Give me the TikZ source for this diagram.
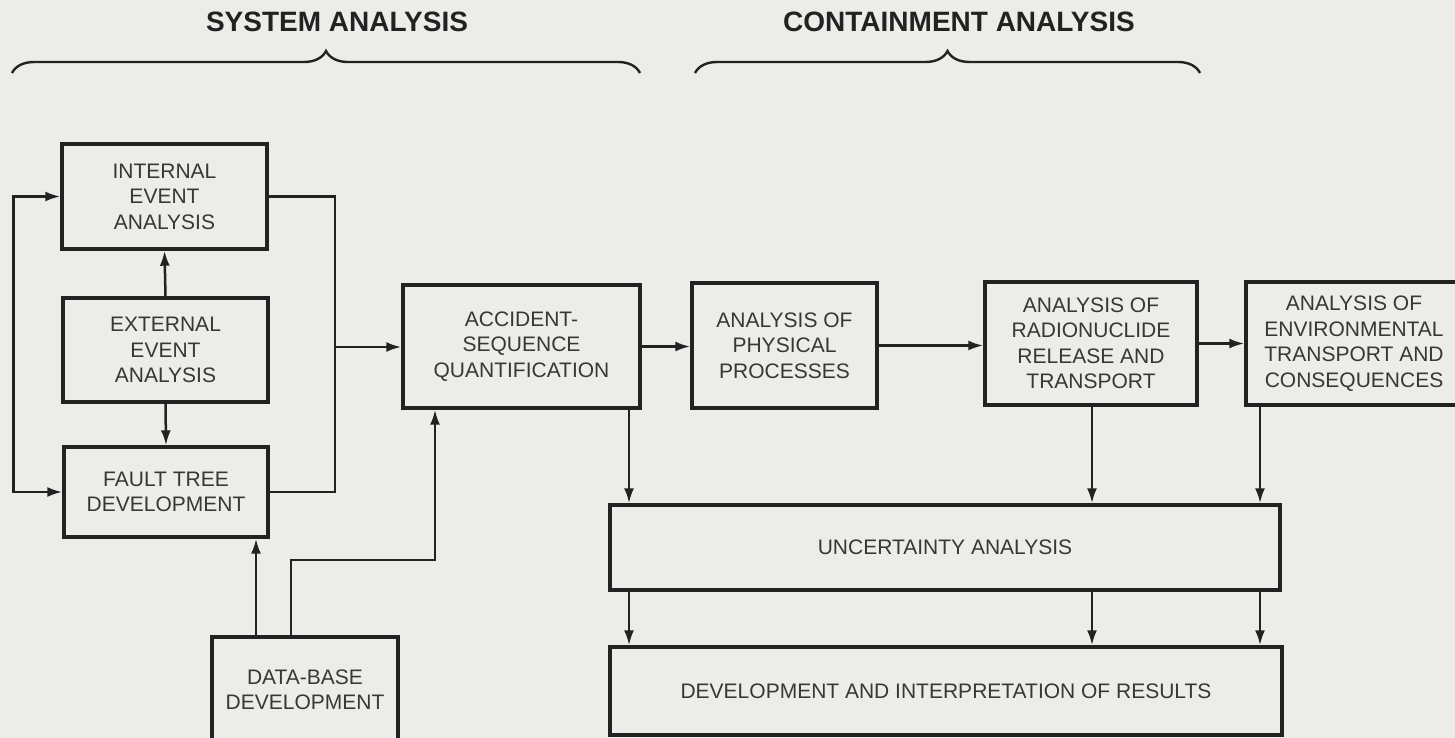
\documentclass[tikz,border=0pt]{standalone}
\usepackage{fontspec}
\setmainfont{Liberation Sans}
\usetikzlibrary{arrows.meta,decorations.pathreplacing}
\definecolor{bg}{RGB}{236,236,233}
\definecolor{ink}{RGB}{34,34,34}
\definecolor{txt}{RGB}{55,55,55}
\begin{document}
\begin{tikzpicture}[x=1pt,y=-1pt,
  box/.style={draw=ink, line width=3.4pt, text=txt, align=center, inner sep=0pt,
    font=\fontsize{21}{25.5}\selectfont},
  conn/.style={draw=ink, line width=2.5pt},
  arr/.style={conn, -{Latex[length=15pt,width=10pt]}},
  dblarr/.style={conn, {Latex[length=15pt,width=10pt]}-{Latex[length=15pt,width=10pt]}},
  ttl/.style={text=ink, font=\fontsize{28}{32}\selectfont\bfseries},
  brc/.style={draw=ink, line width=2.4pt, decorate, decoration={brace, amplitude=22pt}}
]
\fill[bg] (0,0) rectangle (1455,738);
\clip (0,0) rectangle (1455,738);

% titles and braces
\node[ttl] (sys) at (337,22) {SYSTEM ANALYSIS};
\node[ttl] (cont) at (959,22) {CONTAINMENT ANALYSIS};
\coordinate (b1l) at (12,73); \coordinate (b1r) at (640,73);
\coordinate (b2l) at (695,73); \coordinate (b2r) at (1200,73);
\draw[brc] (b1l) -- (b1r);
\draw[brc] (b2l) -- (b2r);

% boxes
\node[box, minimum width=205pt, minimum height=105pt] (int) at (164.5,196.5) {INTERNAL\\EVENT\\ANALYSIS};
\node[box, minimum width=205pt, minimum height=104pt] (ext) at (165.5,350) {EXTERNAL\\EVENT\\ANALYSIS};
\node[box, minimum width=204pt, minimum height=90pt] (ft) at (166,492) {FAULT TREE\\DEVELOPMENT};
\node[box, minimum width=186pt, minimum height=106pt] (db) at (305,690) {DATA-BASE\\DEVELOPMENT};
\node[box, minimum width=237pt, minimum height=123pt] (acc) at (521.5,346.5) {ACCIDENT-\\SEQUENCE\\QUANTIFICATION};
\node[box, minimum width=185pt, minimum height=125pt] (phys) at (784.5,345.5) {ANALYSIS OF\\PHYSICAL\\PROCESSES};
\node[box, minimum width=212pt, minimum height=123pt] (rad) at (1091,343.5) {ANALYSIS OF\\RADIONUCLIDE\\RELEASE AND\\TRANSPORT};
\node[box, minimum width=216pt, minimum height=123pt] (env) at (1354,343.5) {ANALYSIS OF\\ENVIRONMENTAL\\TRANSPORT AND\\CONSEQUENCES};
\node[box, minimum width=670pt, minimum height=85pt] (unc) at (945,547.5) {UNCERTAINTY ANALYSIS};
\node[box, minimum width=672pt, minimum height=88pt] (dev) at (946,691) {DEVELOPMENT AND INTERPRETATION OF RESULTS};

% left group
\draw[dblarr] (int.west) -- ++(-47,0) |- (ft.west);
\draw[arr] (ext.north) -- (int.south);
\draw[arr] (ext.south) -- (ft.north);
\coordinate (bus) at (335,347);
\draw[conn] (int.east) -| (bus) |- (ft.east);
\draw[arr] (bus) -- (acc.west |- bus);

% data base
\draw[arr] ([xshift=-49pt]db.north) -- ([xshift=-49pt]db.north |- ft.south);
\coordinate (dbk) at (435,560);
\draw[arr] ([xshift=-14pt]db.north) |- (dbk) -- (dbk |- acc.south);

% main chain
\draw[arr] (acc.east) -- (phys.west |- acc.east);
\draw[arr] (phys.east) -- (rad.west |- phys.east);
\draw[arr] (rad.east) -- (env.west |- rad.east);

% down to uncertainty and results
\coordinate (c1) at (629,0);
\coordinate (c2) at (1092,0);
\coordinate (c3) at (1260,0);
\draw[arr] (acc.south -| c1) -- (unc.north -| c1);
\draw[arr] (rad.south -| c2) -- (unc.north -| c2);
\draw[arr] (env.south -| c3) -- (unc.north -| c3);
\foreach \c in {c1,c2,c3} \draw[arr] (unc.south -| \c) -- (dev.north -| \c);
\end{tikzpicture}
\end{document}
